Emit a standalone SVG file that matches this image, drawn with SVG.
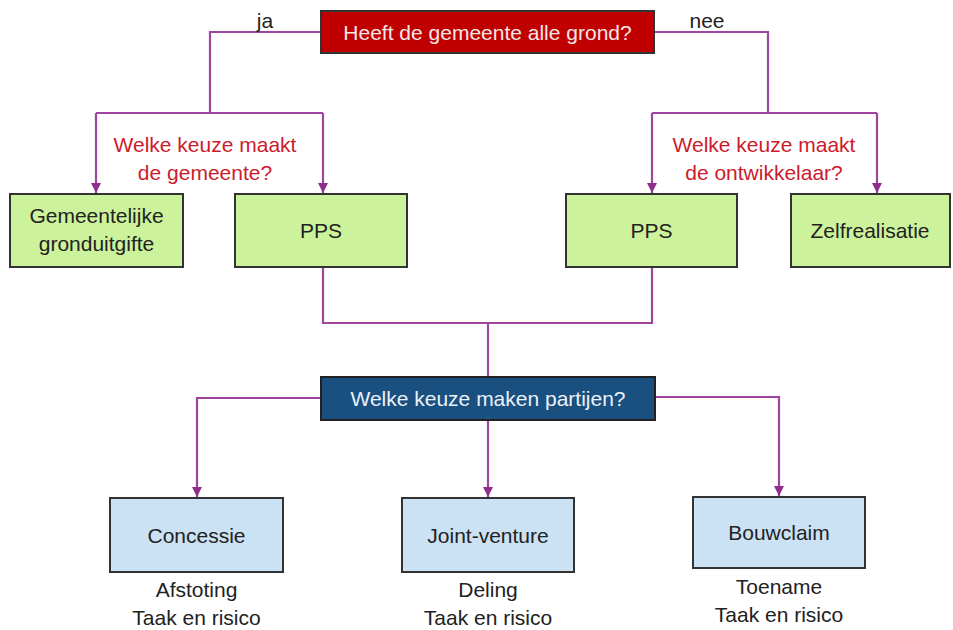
<svg xmlns="http://www.w3.org/2000/svg" width="953" height="630" viewBox="0 0 953 630">
<style>
  text { font-family: "Liberation Sans", Arial, sans-serif; font-size: 21px; text-anchor: middle; }
  .green { fill: #CCF39B; stroke: #333333; stroke-width: 2; }
  .blue { fill: #CBE1F4; stroke: #333333; stroke-width: 2; }
  .dark { fill: #222222; }
  .q { fill: #CC1B2B; }
  .conn { fill: none; stroke: #A0459F; stroke-width: 2.2; }
  .arr { marker-end: url(#ah); }
</style>
<defs>
  <marker id="ah" viewBox="0 0 10 10" refX="10" refY="5" markerWidth="10" markerHeight="10" markerUnits="userSpaceOnUse" orient="auto">
    <path d="M0,0 L10,5 L0,10 Z" fill="#8E2F8E"/>
  </marker>
</defs>
<rect width="953" height="630" fill="#ffffff"/>

<g id="connectors">
  <path class="conn" d="M321,32 H210 V113"/>
  <path class="conn" d="M96,113 H323"/>
  <path class="conn arr" d="M96,113 V193"/>
  <path class="conn arr" d="M323,113 V193"/>
  <path class="conn" d="M654,32 H768 V113"/>
  <path class="conn" d="M652,113 H877"/>
  <path class="conn arr" d="M652,113 V193"/>
  <path class="conn arr" d="M877,113 V193"/>
  <path class="conn" d="M323,267 V323 H652 V267"/>
  <path class="conn" d="M488,323 V377"/>
  <path class="conn arr" d="M321,398 H197 V497"/>
  <path class="conn arr" d="M488,420 V497"/>
  <path class="conn arr" d="M655,397 H779 V496"/>
</g>

<g id="q-grond">
  <rect x="321" y="11" width="333" height="42" fill="#C00000" stroke="#333333" stroke-width="2"/>
  <text x="487.5" y="40" font-size="22" fill="#F5E6E6">Heeft de gemeente alle grond?</text>
</g>
<g id="label-ja"><text x="265" y="28" class="dark">ja</text></g>
<g id="label-nee"><text x="707" y="28" class="dark">nee</text></g>

<g id="q-gemeente">
  <text x="205" y="152" class="q">Welke keuze maakt</text>
  <text x="205" y="180" class="q">de gemeente?</text>
</g>
<g id="q-ontwikkelaar">
  <text x="764" y="152" class="q">Welke keuze maakt</text>
  <text x="764" y="180" class="q">de ontwikkelaar?</text>
</g>

<g id="n-grondgifte">
  <rect class="green" x="10" y="194" width="173" height="73"/>
  <text x="96.5" y="223" class="dark">Gemeentelijke</text>
  <text x="96.5" y="251" class="dark">gronduitgifte</text>
</g>
<g id="n-pps-left">
  <rect class="green" x="235" y="194" width="172" height="73"/>
  <text x="321" y="238" class="dark">PPS</text>
</g>
<g id="n-pps-right">
  <rect class="green" x="566" y="194" width="171" height="73"/>
  <text x="651.5" y="238" class="dark">PPS</text>
</g>
<g id="n-zelf">
  <rect class="green" x="791" y="194" width="159" height="73"/>
  <text x="870" y="238" class="dark">Zelfrealisatie</text>
</g>

<g id="q-partijen">
  <rect x="321" y="377" width="334" height="43" fill="#1A5080" stroke="#222222" stroke-width="2"/>
  <text x="488" y="406" font-size="22" fill="#EAF1F8">Welke keuze maken partijen?</text>
</g>

<g id="n-concessie">
  <rect class="blue" x="110" y="498" width="173" height="74"/>
  <text x="196.5" y="543" class="dark">Concessie</text>
  <text x="196.5" y="597" class="dark">Afstoting</text>
  <text x="196.5" y="625" class="dark">Taak en risico</text>
</g>
<g id="n-joint">
  <rect class="blue" x="402" y="498" width="172" height="74"/>
  <text x="488" y="543" class="dark">Joint-venture</text>
  <text x="488" y="597" class="dark">Deling</text>
  <text x="488" y="625" class="dark">Taak en risico</text>
</g>
<g id="n-bouwclaim">
  <rect class="blue" x="693" y="497" width="172" height="71"/>
  <text x="779" y="540" class="dark">Bouwclaim</text>
  <text x="779" y="594" class="dark">Toename</text>
  <text x="779" y="622" class="dark">Taak en risico</text>
</g>
</svg>
